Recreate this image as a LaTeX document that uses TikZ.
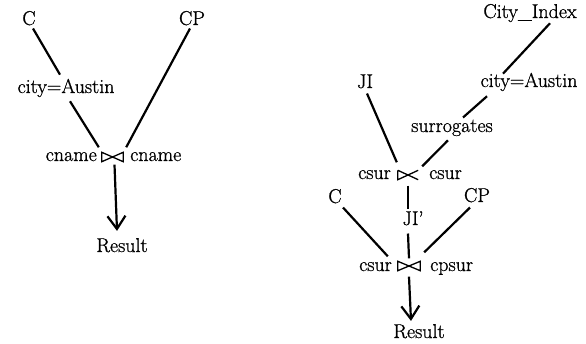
\documentclass[tikz,border=0pt]{standalone}
\usepackage{fontspec}
\setmainfont{Latin Modern Roman}[FakeBold=0.9]
\usetikzlibrary{arrows.meta}
\begin{document}
\begin{tikzpicture}[x=1pt,y=-1pt,
  lbl/.style={inner sep=0pt,anchor=base,font=\fontsize{20}{24}\selectfont},
  edge/.style={line width=2.2pt},
  res/.style={line width=2.2pt,-{Straight Barb[length=13pt,width=18pt,line width=2.2pt]}},
  sym/.style={draw=none,inner sep=0pt,minimum width=21pt,minimum height=9pt},
  symline/.style={line width=1.3pt,line join=miter}]
\useasboundingbox (0,0) rectangle (586,344);
% ---------- left tree ----------
\node[lbl] (C) at (29,25) {C};
\node[lbl] (CP) at (192,25) {CP};
\node[lbl] (selL) at (66,93) {city=Austin};
\node[sym] (J1) at (112.5,157) {};
\node[lbl,anchor=base east] (cnL) at (97,161) {cname};
\node[lbl,anchor=base west] (cnR) at (130,161) {cname};
\node[lbl] (ResL) at (122,252) {Result};
\draw[symline] (J1.north west) -- (J1.south east) -- (J1.north east) -- (J1.south west) -- cycle;
\draw[edge] ([xshift=4pt,yshift=-3pt]C.south) -- ([xshift=-6pt,yshift=4pt]selL.north);
\draw[edge] ([xshift=4pt,yshift=-4pt]selL.south) -- ([xshift=-3pt,yshift=5pt]J1.north west);
\draw[edge] ([xshift=-2pt,yshift=-3pt]CP.south) -- ([xshift=3pt,yshift=5pt]J1.north east);
\draw[res] ([xshift=2pt,yshift=-3pt]J1.south) -- ([xshift=-5pt,yshift=7pt]ResL.north);
% ---------- right tree ----------
\node[lbl] (CI) at (530,18) {City\_Index};
\node[lbl] (selR) at (529,87) {city=Austin};
\node[lbl] (JI) at (365,88) {JI};
\node[lbl] (surr) at (452,132) {surrogates};
\node[sym,minimum width=20pt] (J2) at (408,175) {};
\node[lbl,anchor=base east] (csL) at (391,179) {csur};
\node[lbl,anchor=base west] (csR) at (429,179) {csur};
\node[lbl] (JIp) at (413,225) {JI'};
\node[lbl] (C2) at (335,203) {C};
\node[lbl] (CP2) at (477,202) {CP};
\node[sym,minimum width=22pt] (J3) at (409,266) {};
\node[lbl,anchor=base east] (csL2) at (392,271) {csur};
\node[lbl,anchor=base west] (cpsur) at (430,271) {cpsur};
\node[lbl] (ResR) at (419,338) {Result};
\draw[symline] (J2.north west) -- (J2.south east) (J2.north east) -- (J2.south west) -- (J2.north west);
\draw[symline] (J3.north west) -- (J3.south east) -- (J3.north east) -- (J3.south west) -- cycle;
\draw[edge] ([xshift=20pt,yshift=-1pt]CI.south) -- ([xshift=-26pt,yshift=-1pt]selR.north);
\draw[edge] ([xshift=-42pt,yshift=-5pt]selR.south) -- ([xshift=11pt,yshift=2pt]surr.north);
\draw[edge] ([xshift=-4pt,yshift=-4pt]surr.south) -- ([xshift=4pt,yshift=4pt]J2.north east);
\draw[edge] ([xshift=2pt,yshift=-5pt]JI.south) -- ([xshift=-1pt,yshift=8pt]J2.north west);
\draw[edge] ([yshift=-6pt]J2.south) -- ([xshift=-5pt,yshift=2pt]JIp.north);
\draw[edge] ([xshift=-5pt,yshift=-8pt]JIp.south) -- ([yshift=3pt]J3.north);
\draw[edge] ([xshift=8pt,yshift=-4pt]C2.south) -- ([xshift=-10pt,yshift=5pt]J3.north west);
\draw[edge] ([xshift=-7pt,yshift=-5pt]CP2.south) -- ([xshift=4pt,yshift=9pt]J3.north east);
\draw[res] ([yshift=-6pt]J3.south) -- ([xshift=-8pt,yshift=3pt]ResR.north);
\end{tikzpicture}
\end{document}
